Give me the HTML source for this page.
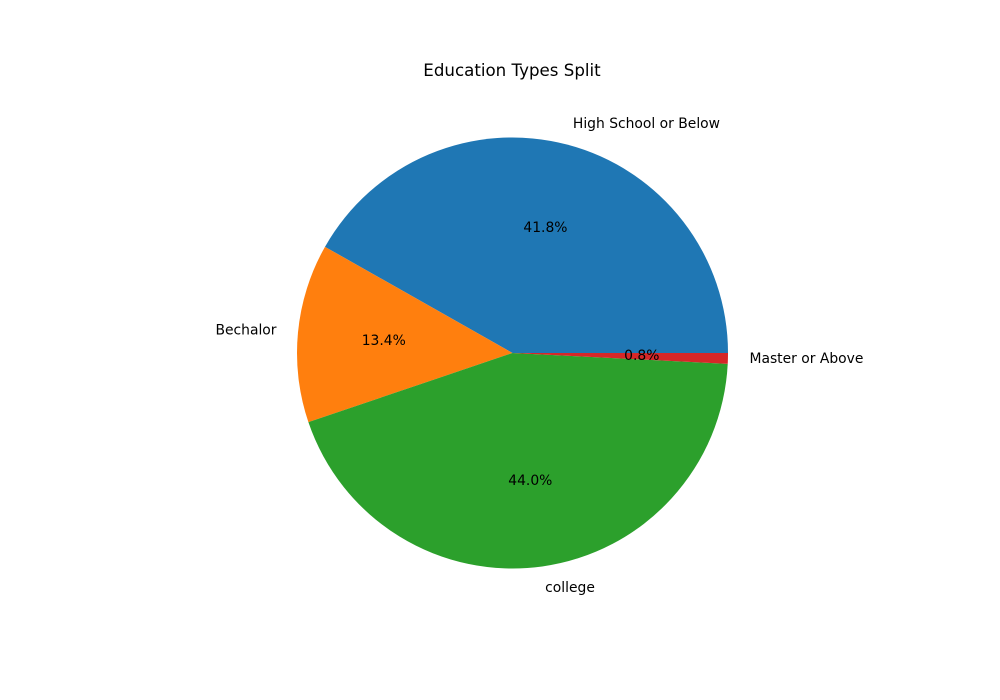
<!DOCTYPE html>
<html><head><meta charset="utf-8"><style>
body{margin:0;background:#fff}
svg{display:block;font-family:"DejaVu Sans","Liberation Sans",sans-serif}
</style></head><body>
<svg id="chart" width="1000" height="700" viewBox="0 0 1000 700">
<rect width="1000" height="700" fill="#fff"/>
<text x="512" y="76" text-anchor="middle" font-size="16.67" fill="#000">Education Types Split</text>
<g id="slices"></g>
</svg>
<script>
const categories = ["High School or Below", "Bechalor", "college", "Master or Above"];
const values = [41.8, 13.4, 44.0, 0.8];
const pctLabels = ["41.8%", "13.4%", "44.0%", "0.8%"];
const colors = ["#1f77b4", "#ff7f0e", "#2ca02c", "#d62728"];

const cx = 512.5, cy = 353, r = 215.5;
const g = document.getElementById('slices');
const NS = "http://www.w3.org/2000/svg";
const total = values.reduce((a, b) => a + b, 0);
function pt(a, rad) { return [cx + rad * Math.cos(a), cy - rad * Math.sin(a)]; }
let start = 0;
values.forEach((v, i) => {
  const sweep = v / total * 2 * Math.PI;
  const end = start + sweep;
  const [x1, y1] = pt(start, r), [x2, y2] = pt(end, r);
  const large = sweep > Math.PI ? 1 : 0;
  const p = document.createElementNS(NS, 'path');
  p.setAttribute('d', `M${cx},${cy} L${x1},${y1} A${r},${r} 0 ${large} 0 ${x2},${y2} Z`);
  p.setAttribute('fill', colors[i]);
  
  
  g.appendChild(p);
  const mid = (start + end) / 2;
  const [lx, ly] = pt(mid, r * 1.1);
  const t = document.createElementNS(NS, 'text');
  t.setAttribute('x', lx); t.setAttribute('y', ly);
  t.setAttribute('text-anchor', Math.cos(mid) > 0 ? 'start' : 'end');
  t.setAttribute('dominant-baseline', 'central');
  t.setAttribute('font-size', '13.89');
  t.textContent = categories[i];
  
  
  g.appendChild(t);
  const [px, py] = pt(mid, r * 0.6);
  const tp = document.createElementNS(NS, 'text');
  tp.setAttribute('x', px); tp.setAttribute('y', py);
  tp.setAttribute('text-anchor', 'middle');
  tp.setAttribute('dominant-baseline', 'central');
  tp.setAttribute('font-size', '13.89');
  tp.textContent = pctLabels[i];
  
  
  g.appendChild(tp);
  start = end;
});
</script>
</body></html>
